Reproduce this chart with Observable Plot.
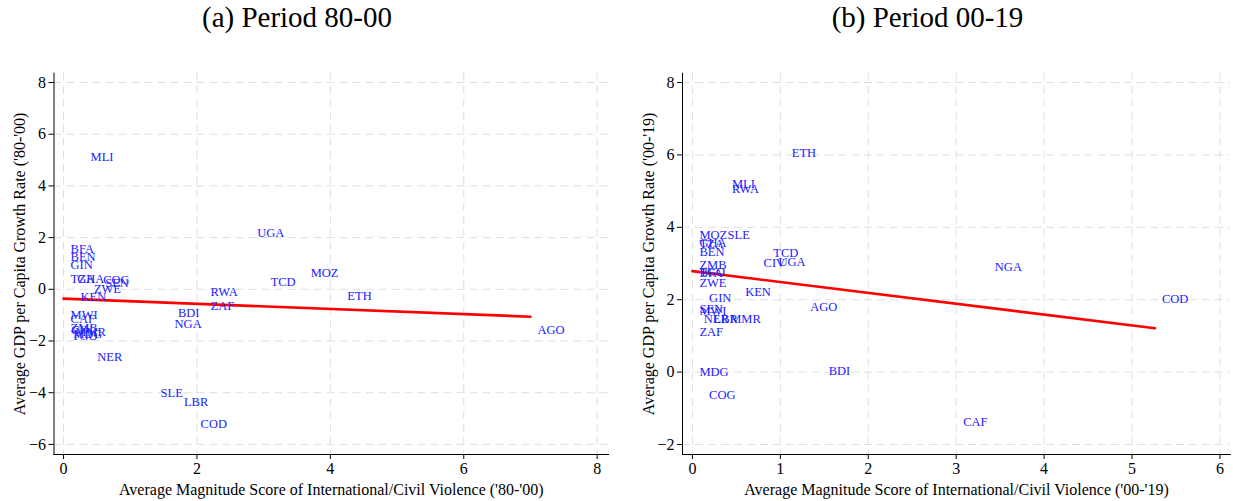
<!DOCTYPE html>
<html><head><meta charset="utf-8">
<script src="https://cdn.jsdelivr.net/npm/d3@7"></script>
<script src="https://cdn.jsdelivr.net/npm/@observablehq/plot@0.6"></script>
<style>
body{margin:0;background:#fff;}
#wrap{position:relative;width:1233px;height:501px;overflow:hidden;}
.panel{position:absolute;top:0;}
.title{position:relative;height:40px;font-family:"Liberation Serif","Times New Roman",Times,serif;font-size:29px;text-align:center;line-height:34px;color:#000;white-space:nowrap;}
</style></head><body>
<div id="wrap">
  <div class="panel" id="p1" style="left:0;width:616px"><div class="title" style="left:-11px">(a) Period 80-00</div></div>
  <div class="panel" id="p2" style="left:616px;width:617px"><div class="title" style="left:3px">(b) Period 00-19</div></div>
</div>
<script>
// Panel (a) 1980-2000
const codes80 = ["MLI","UGA","BFA","BEN","GIN","TZA","GHA","COG","SEN","ZWE","KEN","MOZ","TCD","RWA","ZAF","ETH","BDI","NGA","AGO","MWI","CAF","ZMB","CIV","MMR","MDG","TGO","NER","SLE","LBR","COD"];
const violence80 = [0.30,2.80,0.00,0.00,0.00,0.00,0.10,0.49,0.52,0.35,0.15,3.60,3.00,2.10,2.10,4.15,1.61,1.56,7.00,0.00,0.00,0.00,0.01,0.07,0.04,0.02,0.40,1.35,1.70,1.95];
const growth80 = [5.12,2.18,1.56,1.25,0.94,0.40,0.40,0.35,0.24,0.01,-0.31,0.63,0.28,-0.10,-0.66,-0.26,-0.93,-1.35,-1.57,-0.98,-1.13,-1.48,-1.56,-1.66,-1.74,-1.80,-2.62,-4.03,-4.36,-5.20];
const fit80x = [0, 7.0];
const fit80y = [-0.36, -1.06];

// Panel (b) 2000-2019
const codes19 = ["ETH","MLI","RWA","MOZ","SLE","GHA","TZA","BEN","TCD","CIV","UGA","NGA","ZMB","TGO","BFA","ZWE","KEN","GIN","COD","AGO","SEN","MWI","NER","LBR","MMR","ZAF","MDG","BDI","COG","CAF"];
const violence19 = [1.05,0.37,0.37,0.00,0.32,0.00,0.00,0.00,0.84,0.73,0.90,3.36,0.00,0.00,0.00,0.00,0.52,0.11,5.26,1.26,0.00,0.00,0.05,0.16,0.35,0.00,0.00,1.47,0.11,3.00];
const growth19 = [6.04,5.19,5.06,3.80,3.80,3.58,3.55,3.31,3.28,3.01,3.03,2.89,2.96,2.77,2.73,2.46,2.21,2.06,2.01,1.79,1.75,1.69,1.48,1.48,1.48,1.10,0.00,0.02,-0.64,-1.39];
const fit19x = [0, 5.26];
const fit19y = [2.79, 1.21];

const ticksX80 = [0,2,4,6,8];
const ticksY80 = [-6,-4,-2,0,2,4,6,8];
const ticksX19 = [0,1,2,3,4,5,6];
const ticksY19 = [-2,0,2,4,6,8];

const font = "'Liberation Serif','Times New Roman',Times,serif";
const gridStyle = {stroke:"#d7e2e6", strokeOpacity:1, strokeDasharray:"8,5", strokeWidth:1};

function panel(cfg){
  const pts = cfg.codes.map((c,i)=>({code:c, x:cfg.xs[i], y:cfg.ys[i]}));
  const fit = cfg.fx.map((v,i)=>({x:v, y:cfg.fy[i]}));
  return Plot.plot({
    width: cfg.width, height: 461,
    marginLeft: cfg.ml, marginRight: cfg.mr, marginTop: 32.7, marginBottom: 47,
    style: {fontFamily: font, fontSize: "15px", background: "white", color:"#000", overflow:"visible"},
    x: {domain: cfg.xd},
    y: {domain: cfg.yd},
    marks: [
      Plot.gridX(cfg.tx, gridStyle),
      Plot.gridY(cfg.ty, gridStyle),
      Plot.frame({anchor:"left", stroke:"#000"}),
      Plot.frame({anchor:"bottom", stroke:"#000"}),
      Plot.axisX(cfg.tx, {tickSize:5, tickPadding:3, fontSize:16, label: cfg.xl, labelAnchor:"center", labelArrow:false, labelOffset:40}),
      Plot.axisY(cfg.ty, {tickSize:5, tickPadding:3, fontSize:16, label: cfg.yl, labelAnchor:"center", labelArrow:false, labelOffset:40}),
      Plot.line(fit, {x:"x", y:"y", stroke:"#ff0000", strokeWidth:2.6}),
      Plot.text(pts, {x:"x", y:"y", text:"code", textAnchor:"start", lineAnchor:"middle", dx:7, fill:"#2020ff", fontSize:12.5})
    ]
  });
}

document.getElementById("p1").appendChild(panel({
  width:616, ml:53.5, mr:8,
  codes:codes80, xs:violence80, ys:growth80, fx:fit80x, fy:fit80y,
  xd:[-0.143, 8.17], yd:[-6.39, 8.36], tx:ticksX80, ty:ticksY80,
  xl:"Average Magnitude Score of International/Civil Violence ('80-'00)",
  yl:"Average GDP per Capita Growth Rate ('80-'00)"
}));
document.getElementById("p2").appendChild(panel({
  width:617, ml:66, mr:3,
  codes:codes19, xs:violence19, ys:growth19, fx:fit19x, fy:fit19y,
  xd:[-0.113, 6.12], yd:[-2.276, 8.257], tx:ticksX19, ty:ticksY19,
  xl:"Average Magnitude Score of International/Civil Violence ('00-'19)",
  yl:"Average GDP per Capita Growth Rate ('00-'19)"
}));
</script>
</body></html>
